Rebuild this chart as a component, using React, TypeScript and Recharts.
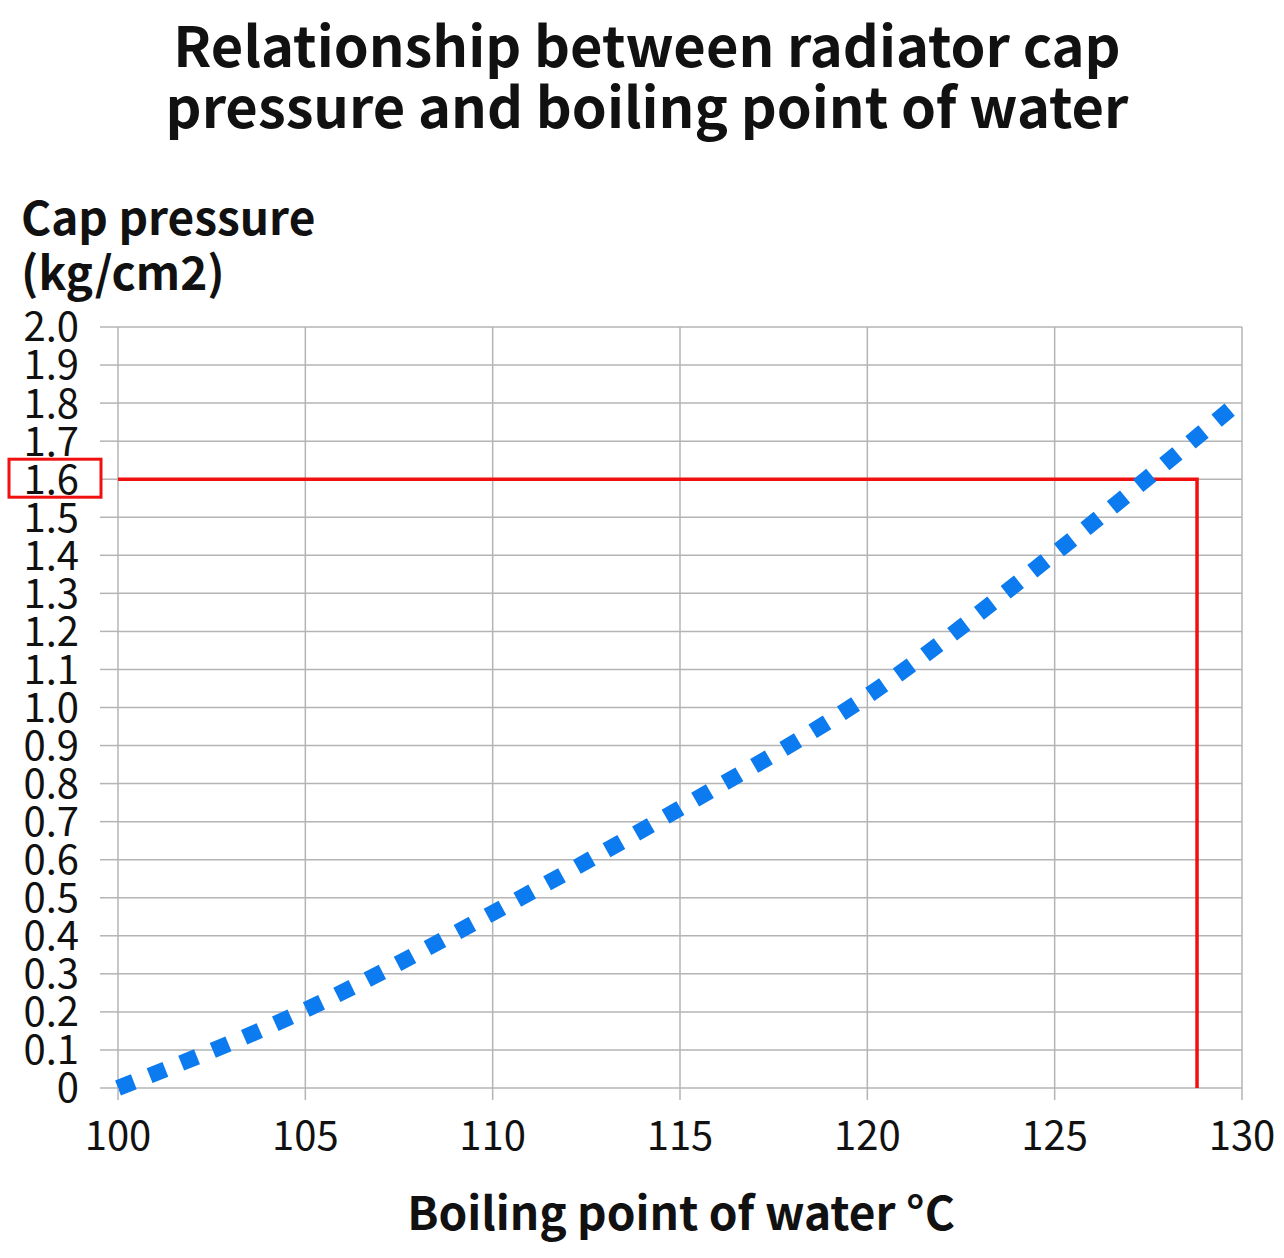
import { LineChart, Line, XAxis, YAxis, CartesianGrid } from 'recharts';

const boilingPoints = [100, 105, 110, 115, 120, 125, 130];
const capPressures = [0, 0.205, 0.46, 0.735, 1.03, 1.405, 1.81];
const guideX = [100, 128.8, 128.8];
const guideY = [1.6, 1.6, 0];
const xTicks = [100, 105, 110, 115, 120, 125, 130];
const yTicks = [0, 0.1, 0.2, 0.3, 0.4, 0.5, 0.6, 0.7, 0.8, 0.9, 1.0, 1.1, 1.2, 1.3, 1.4, 1.5, 1.6, 1.7, 1.8, 1.9, 2.0];
const highlightTick = 1.6;

const FONT = '"Noto Sans CJK JP", "Noto Sans", sans-serif';

const curveData = boilingPoints.map((t, i) => ({ t, p: capPressures[i] }));
const guideData = guideX.map((t, i) => ({ t, p: guideY[i] }));

function YTick({ x, y, payload }: any) {
    const v = payload.value as number;
    const label = v === 0 ? '0' : v.toFixed(1);
    return (
        <g>
            <text x={x} y={y} dy="0.36em" textAnchor="end" fontSize={40} fontFamily={FONT} fill="#111">
                {label}
            </text>
            {Math.abs(v - highlightTick) < 1e-6 && (
                <rect x={9} y={y - 20} width={92} height={38} fill="none" stroke="#f01010" strokeWidth={3} />
            )}
        </g>
    );
}

export default function App() {
    return (
        <div style={{ position: 'absolute', left: 0, top: 0, width: 1284, height: 1258, background: '#fff', fontFamily: FONT }}>
            <div style={{ position: 'absolute', left: 0, top: 12, width: 1294, textAlign: 'center', fontSize: 56, fontWeight: 700, lineHeight: '61px', color: '#111' }}>
                Relationship between radiator cap
                <br />
                pressure and boiling point of water
            </div>
            <div style={{ position: 'absolute', left: 21, top: 188, fontSize: 46, fontWeight: 700, lineHeight: '55px', color: '#111' }}>
                Cap pressure
                <br />
                (kg/cm2)
            </div>
            <div style={{ position: 'absolute', left: 0, top: 1180, width: 1362, textAlign: 'center', fontSize: 46, fontWeight: 700, lineHeight: '60px', color: '#111' }}>
                Boiling point of water °C
            </div>
            <div style={{ position: 'absolute', left: 0, top: 0 }}>
                <LineChart width={1284} height={1258} margin={{ top: 327, right: 42, left: 0, bottom: 110 }}>
                    <CartesianGrid stroke="#b4b4b4" strokeWidth={1.5} />
                    <XAxis
                        dataKey="t"
                        type="number"
                        domain={[100, 130]}
                        ticks={xTicks}
                        height={60}
                        tickSize={12}
                        tickMargin={22}
                        axisLine={false}
                        tickLine={{ stroke: '#b4b4b4', strokeWidth: 1.5 }}
                        tick={{ fontSize: 40, fontFamily: FONT, fill: '#111' }}
                        allowDuplicatedCategory={false}
                    />
                    <YAxis
                        dataKey="p"
                        type="number"
                        domain={[0, 2]}
                        ticks={yTicks}
                        interval={0}
                        width={118}
                        tickSize={18}
                        tickMargin={21}
                        axisLine={false}
                        tickLine={{ stroke: '#b4b4b4', strokeWidth: 1.5 }}
                        tick={<YTick />}
                    />
                    <Line
                        data={guideData}
                        dataKey="p"
                        type="linear"
                        stroke="#f01010"
                        strokeWidth={3.5}
                        dot={false}
                        activeDot={false}
                        isAnimationActive={false}
                    />
                    <Line
                        data={curveData}
                        dataKey="p"
                        type="monotone"
                        stroke="#0b7bef"
                        strokeWidth={16}
                        strokeDasharray="17 17"
                        dot={false}
                        activeDot={false}
                        isAnimationActive={false}
                    />
                </LineChart>
            </div>
        </div>
    );
}
